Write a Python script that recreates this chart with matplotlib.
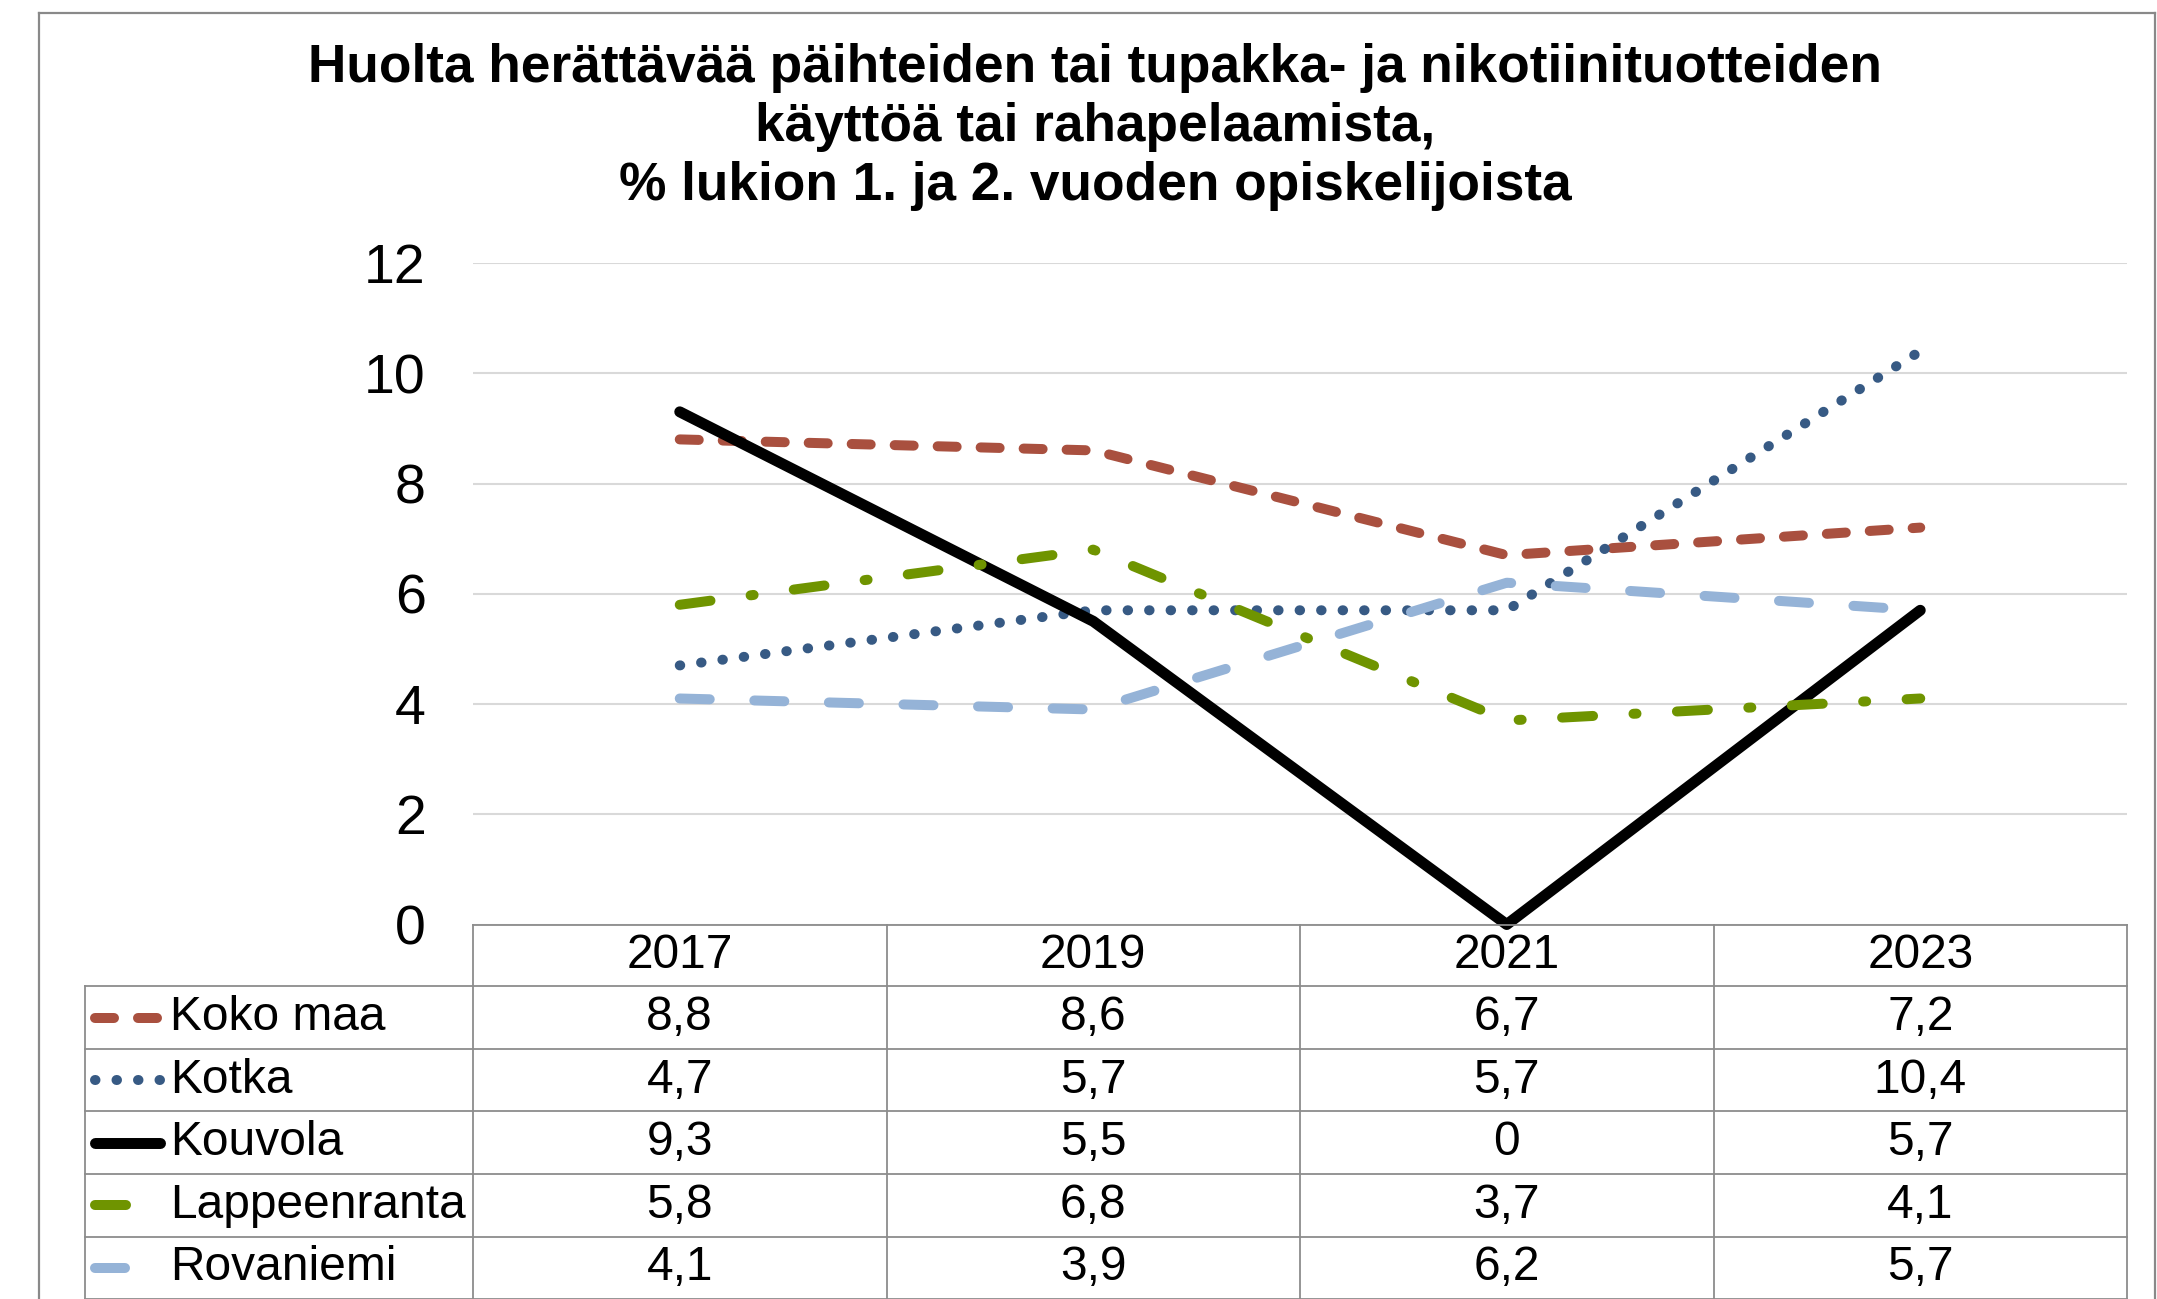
import matplotlib
matplotlib.use("Agg")
import matplotlib.pyplot as plt
from matplotlib.lines import Line2D

# ---- data ----
years = ["2017", "2019", "2021", "2023"]
series_names = ["Koko maa", "Kotka", "Kouvola", "Lappeenranta", "Rovaniemi"]
koko_maa = [8.8, 8.6, 6.7, 7.2]
kotka = [4.7, 5.7, 5.7, 10.4]
kouvola = [9.3, 5.5, 0, 5.7]
lappeenranta = [5.8, 6.8, 3.7, 4.1]
rovaniemi = [4.1, 3.9, 6.2, 5.7]
y_ticks = [0, 2, 4, 6, 8, 10, 12]
title = ("Huolta herättävää päihteiden tai tupakka- ja nikotiinituotteiden\n"
         "käyttöä tai rahapelaamista,\n"
         "% lukion 1. ja 2. vuoden opiskelijoista")

values = [koko_maa, kotka, kouvola, lappeenranta, rovaniemi]

# ---- styles ----
W, H = 2157, 1299
DPI = 100
FONT = "Liberation Sans"
styles = [
    dict(color="#A9503F", lw=7.2, ls=(0, (1.9, 2.4))),
    dict(color="#375A84", lw=7.2, ls=(0, (0.05, 2.1))),
    dict(color="#000000", lw=7.9, ls="-"),
    dict(color="#6F9400", lw=7.2, ls=(0, (3.1, 4.05, 0.3, 4.05))),
    dict(color="#95B3D7", lw=7.2, ls=(0, (3.0, 4.46))),
]
BORDER = "#8C8C8C"

plt.rcParams["font.family"] = [FONT, "DejaVu Sans"]

fig = plt.figure(figsize=(W / DPI, H / DPI), dpi=DPI)
fig.patch.set_facecolor("white")

# plot area in pixel coordinates
left, right, top, bottom = 473, 2127, 263, 924.5
ax = fig.add_axes([left / W, 1 - bottom / H, (right - left) / W, (bottom - top) / H])
ax.set_xlim(-0.5, len(years) - 0.5)
ax.set_ylim(0, 12)
ax.set_yticks(y_ticks)
ax.set_yticklabels([str(t) for t in y_ticks])
ax.set_xticks([])
ax.tick_params(axis="y", length=0, pad=34, labelsize=40)
for s in ax.spines.values():
    s.set_visible(False)
ax.yaxis.grid(True, color="#D9D9D9", lw=1.5)
ax.set_axisbelow(True)

xs = list(range(len(years)))
for vals, st in zip(values, styles):
    ax.plot(xs, vals, color=st["color"], lw=st["lw"], linestyle=st["ls"],
            dash_capstyle="round", solid_capstyle="round",
            dash_joinstyle="round", solid_joinstyle="round", clip_on=False)

# overlay in pixel coordinates for the table and frame
ov = fig.add_axes([0, 0, 1, 1], facecolor="none")
ov.set_xlim(0, W)
ov.set_ylim(H, 0)
ov.axis("off")

# outer frame
ov.plot([39, 2155], [13, 13], color="#898989", lw=1.6)
ov.plot([39, 39], [13, H + 5], color="#898989", lw=1.6)
ov.plot([2155, 2155], [13, H + 5], color="#898989", lw=1.6)

# title
fig.text(1095 / W, 1 - 127 / H, title, ha="center", va="center",
         fontsize=38.3, fontweight="bold", linespacing=1.23, family=FONT)

# data table
col_edges = [left + i * (right - left) / len(years) for i in range(len(years) + 1)]
leg_left = 85
header_top = bottom
row_h = 62.6
header_bottom = header_top + 61.7
row_edges = [header_bottom + i * row_h for i in range(len(series_names) + 1)]

tbl_lw = 1.3
ov.plot([left, right], [header_top, header_top], color=BORDER, lw=tbl_lw)
for yy in row_edges:
    ov.plot([leg_left, right], [yy, yy], color=BORDER, lw=tbl_lw)
ov.plot([leg_left, leg_left], [header_bottom, H + 5], color=BORDER, lw=tbl_lw)
for xx in col_edges:
    ov.plot([xx, xx], [header_top, H + 5], color=BORDER, lw=tbl_lw)

cell_fs = 34.5
for i, yr in enumerate(years):
    cx = (col_edges[i] + col_edges[i + 1]) / 2
    ov.text(cx, (header_top + header_bottom) / 2, yr, ha="center", va="center",
            fontsize=cell_fs)

for r, (name, vals, st) in enumerate(zip(series_names, values, styles)):
    cy = (row_edges[r] + row_edges[r + 1]) / 2
    ov.add_line(Line2D([95, 160], [cy, cy], color=st["color"], lw=st["lw"],
                       linestyle=st["ls"], dash_capstyle="round",
                       solid_capstyle="round"))
    ov.text(170, cy, name, ha="left", va="center", fontsize=cell_fs)
    for i, v in enumerate(vals):
        cx = (col_edges[i] + col_edges[i + 1]) / 2
        label = f"{v:g}".replace(".", ",")
        ov.text(cx, cy, label, ha="center", va="center", fontsize=cell_fs)

fig.savefig("out.png", dpi=DPI, facecolor="white")
